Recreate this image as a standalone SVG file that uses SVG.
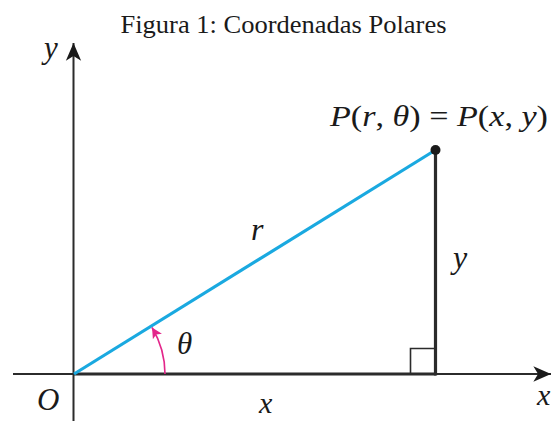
<svg xmlns="http://www.w3.org/2000/svg" width="552" height="421" viewBox="0 0 552 421">
<style>
.t{font-family:"Liberation Serif","Times New Roman",serif;fill:#1a1a1a}
.i{font-style:italic}
.ax{stroke:#2b2b2b;fill:none}
</style>
<defs>
<marker id="ah" markerUnits="userSpaceOnUse" markerWidth="20" markerHeight="20" viewBox="-16 -8 17 16" refX="0" refY="0" orient="auto">
<path d="M0,0 L-15,-6.5 L-11,0 L-15,6.5 Z" fill="#1a1a1a"/>
</marker>
<marker id="pk" markerUnits="userSpaceOnUse" markerWidth="14" markerHeight="14" viewBox="-10 -6 11 12" refX="0" refY="0" orient="auto">
<path d="M0,0 L-9,-4.5 L-7,0 L-9,4.5 Z" fill="#e3268a"/>
</marker>
</defs>
<rect width="552" height="421" fill="#fff"/>
<text class="t" x="120.5" y="33" font-size="26" textLength="326" lengthAdjust="spacingAndGlyphs">Figura 1: Coordenadas Polares</text>
<g id="connectors">
<line class="ax" x1="73.5" y1="421" x2="73.5" y2="43" stroke-width="2" marker-end="url(#ah)"/>
<line class="ax" x1="13" y1="374" x2="551" y2="374" stroke-width="2" marker-end="url(#ah)"/>
<line class="ax" x1="74" y1="374" x2="436" y2="374" stroke-width="3.2"/>
<line class="ax" x1="435.5" y1="150" x2="435.5" y2="375.5" stroke-width="3.2"/>
<path class="ax" d="M410.5,374 V348.5 H435" stroke-width="1.6"/>
<line x1="74" y1="374" x2="435.5" y2="150" stroke="#1aa9e0" stroke-width="3.2"/>
<path d="M165,374 A91,91 0 0 0 152,327.5" fill="none" stroke="#e3268a" stroke-width="1.6" marker-end="url(#pk)"/>
</g>
<g id="P"><circle cx="435.5" cy="150" r="5" fill="#1a1a1a"/>
<text class="t" x="330" y="126" font-size="30" textLength="218" lengthAdjust="spacingAndGlyphs"><tspan class="i">P</tspan>(<tspan class="i">r</tspan>, <tspan class="i">θ</tspan>) = <tspan class="i">P</tspan>(<tspan class="i">x</tspan>, <tspan class="i">y</tspan>)</text></g>
<g id="labels">
<text class="t i" x="44" y="58" font-size="31">y</text>
<text class="t i" x="37" y="410" font-size="31">O</text>
<text class="t i" x="259" y="413" font-size="30">x</text>
<text class="t i" x="537" y="405" font-size="30">x</text>
<text class="t i" x="251" y="240" font-size="32">r</text>
<text class="t i" x="453" y="268" font-size="32">y</text>
<text class="t i" x="177" y="354" font-size="31">θ</text>
</g>
</svg>
